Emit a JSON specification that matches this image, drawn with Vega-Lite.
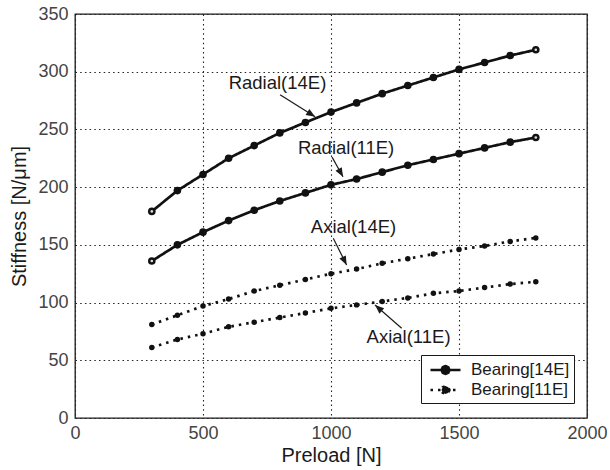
{
  "$schema": "https://vega.github.io/schema/vega-lite/v6.json",
  "width": 512,
  "height": 404,
  "autosize": {"type": "none"},
  "padding": {"left": 75, "top": 14, "right": 23, "bottom": 52},
  "background": "white",
  "config": {
    "font": "Liberation Sans",
    "view": {"stroke": "#1a1a1a", "strokeWidth": 1.3},
    "axis": {
      "grid": true,
      "gridColor": "#222222",
      "gridDash": [1.5, 3.2],
      "gridWidth": 1.1,
      "domain": false,
      "ticks": false,
      "labelFont": "Liberation Sans",
      "labelFontSize": 18,
      "labelColor": "#444444",
      "labelFlush": false,
      "format": "d",
      "titleFont": "Liberation Sans",
      "titleFontSize": 20,
      "titleFontWeight": "normal",
      "titleColor": "#1a1a1a"
    }
  },
  "datasets": {
    "curves": [
      {"preload": 300, "stiffness": 179, "curve": "Radial(14E)", "series": "Bearing[14E]"},
      {"preload": 400, "stiffness": 197, "curve": "Radial(14E)", "series": "Bearing[14E]"},
      {"preload": 500, "stiffness": 211, "curve": "Radial(14E)", "series": "Bearing[14E]"},
      {"preload": 600, "stiffness": 225, "curve": "Radial(14E)", "series": "Bearing[14E]"},
      {"preload": 700, "stiffness": 236, "curve": "Radial(14E)", "series": "Bearing[14E]"},
      {"preload": 800, "stiffness": 247, "curve": "Radial(14E)", "series": "Bearing[14E]"},
      {"preload": 900, "stiffness": 256, "curve": "Radial(14E)", "series": "Bearing[14E]"},
      {"preload": 1000, "stiffness": 265, "curve": "Radial(14E)", "series": "Bearing[14E]"},
      {"preload": 1100, "stiffness": 273, "curve": "Radial(14E)", "series": "Bearing[14E]"},
      {"preload": 1200, "stiffness": 281, "curve": "Radial(14E)", "series": "Bearing[14E]"},
      {"preload": 1300, "stiffness": 288, "curve": "Radial(14E)", "series": "Bearing[14E]"},
      {"preload": 1400, "stiffness": 295, "curve": "Radial(14E)", "series": "Bearing[14E]"},
      {"preload": 1500, "stiffness": 302, "curve": "Radial(14E)", "series": "Bearing[14E]"},
      {"preload": 1600, "stiffness": 308, "curve": "Radial(14E)", "series": "Bearing[14E]"},
      {"preload": 1700, "stiffness": 314, "curve": "Radial(14E)", "series": "Bearing[14E]"},
      {"preload": 1800, "stiffness": 319, "curve": "Radial(14E)", "series": "Bearing[14E]"},
      {"preload": 300, "stiffness": 136, "curve": "Radial(11E)", "series": "Bearing[14E]"},
      {"preload": 400, "stiffness": 150, "curve": "Radial(11E)", "series": "Bearing[14E]"},
      {"preload": 500, "stiffness": 161, "curve": "Radial(11E)", "series": "Bearing[14E]"},
      {"preload": 600, "stiffness": 171, "curve": "Radial(11E)", "series": "Bearing[14E]"},
      {"preload": 700, "stiffness": 180, "curve": "Radial(11E)", "series": "Bearing[14E]"},
      {"preload": 800, "stiffness": 188, "curve": "Radial(11E)", "series": "Bearing[14E]"},
      {"preload": 900, "stiffness": 195, "curve": "Radial(11E)", "series": "Bearing[14E]"},
      {"preload": 1000, "stiffness": 202, "curve": "Radial(11E)", "series": "Bearing[14E]"},
      {"preload": 1100, "stiffness": 207, "curve": "Radial(11E)", "series": "Bearing[14E]"},
      {"preload": 1200, "stiffness": 213, "curve": "Radial(11E)", "series": "Bearing[14E]"},
      {"preload": 1300, "stiffness": 219, "curve": "Radial(11E)", "series": "Bearing[14E]"},
      {"preload": 1400, "stiffness": 224, "curve": "Radial(11E)", "series": "Bearing[14E]"},
      {"preload": 1500, "stiffness": 229, "curve": "Radial(11E)", "series": "Bearing[14E]"},
      {"preload": 1600, "stiffness": 234, "curve": "Radial(11E)", "series": "Bearing[14E]"},
      {"preload": 1700, "stiffness": 239, "curve": "Radial(11E)", "series": "Bearing[14E]"},
      {"preload": 1800, "stiffness": 243, "curve": "Radial(11E)", "series": "Bearing[14E]"},
      {"preload": 300, "stiffness": 81, "curve": "Axial(14E)", "series": "Bearing[11E]"},
      {"preload": 400, "stiffness": 89, "curve": "Axial(14E)", "series": "Bearing[11E]"},
      {"preload": 500, "stiffness": 97, "curve": "Axial(14E)", "series": "Bearing[11E]"},
      {"preload": 600, "stiffness": 103, "curve": "Axial(14E)", "series": "Bearing[11E]"},
      {"preload": 700, "stiffness": 110, "curve": "Axial(14E)", "series": "Bearing[11E]"},
      {"preload": 800, "stiffness": 115, "curve": "Axial(14E)", "series": "Bearing[11E]"},
      {"preload": 900, "stiffness": 120, "curve": "Axial(14E)", "series": "Bearing[11E]"},
      {"preload": 1000, "stiffness": 125, "curve": "Axial(14E)", "series": "Bearing[11E]"},
      {"preload": 1100, "stiffness": 129, "curve": "Axial(14E)", "series": "Bearing[11E]"},
      {"preload": 1200, "stiffness": 134, "curve": "Axial(14E)", "series": "Bearing[11E]"},
      {"preload": 1300, "stiffness": 138, "curve": "Axial(14E)", "series": "Bearing[11E]"},
      {"preload": 1400, "stiffness": 142, "curve": "Axial(14E)", "series": "Bearing[11E]"},
      {"preload": 1500, "stiffness": 146, "curve": "Axial(14E)", "series": "Bearing[11E]"},
      {"preload": 1600, "stiffness": 149, "curve": "Axial(14E)", "series": "Bearing[11E]"},
      {"preload": 1700, "stiffness": 153, "curve": "Axial(14E)", "series": "Bearing[11E]"},
      {"preload": 1800, "stiffness": 156, "curve": "Axial(14E)", "series": "Bearing[11E]"},
      {"preload": 300, "stiffness": 61, "curve": "Axial(11E)", "series": "Bearing[11E]"},
      {"preload": 400, "stiffness": 68, "curve": "Axial(11E)", "series": "Bearing[11E]"},
      {"preload": 500, "stiffness": 73, "curve": "Axial(11E)", "series": "Bearing[11E]"},
      {"preload": 600, "stiffness": 79, "curve": "Axial(11E)", "series": "Bearing[11E]"},
      {"preload": 700, "stiffness": 83, "curve": "Axial(11E)", "series": "Bearing[11E]"},
      {"preload": 800, "stiffness": 87, "curve": "Axial(11E)", "series": "Bearing[11E]"},
      {"preload": 900, "stiffness": 91, "curve": "Axial(11E)", "series": "Bearing[11E]"},
      {"preload": 1000, "stiffness": 95, "curve": "Axial(11E)", "series": "Bearing[11E]"},
      {"preload": 1100, "stiffness": 98, "curve": "Axial(11E)", "series": "Bearing[11E]"},
      {"preload": 1200, "stiffness": 101, "curve": "Axial(11E)", "series": "Bearing[11E]"},
      {"preload": 1300, "stiffness": 104, "curve": "Axial(11E)", "series": "Bearing[11E]"},
      {"preload": 1400, "stiffness": 108, "curve": "Axial(11E)", "series": "Bearing[11E]"},
      {"preload": 1500, "stiffness": 110, "curve": "Axial(11E)", "series": "Bearing[11E]"},
      {"preload": 1600, "stiffness": 113, "curve": "Axial(11E)", "series": "Bearing[11E]"},
      {"preload": 1700, "stiffness": 116, "curve": "Axial(11E)", "series": "Bearing[11E]"},
      {"preload": 1800, "stiffness": 118, "curve": "Axial(11E)", "series": "Bearing[11E]"}
    ],
    "notes": [
      {"label": "Radial(14E)", "tx": 791, "ty": 285, "fromX": 801, "fromY": 280, "toX": 938, "toY": 261},
      {"label": "Radial(11E)", "tx": 1059, "ty": 228.5, "fromX": 1004, "fromY": 226, "toX": 1047, "toY": 209},
      {"label": "Axial(14E)", "tx": 1088, "ty": 160, "fromX": 1009, "fromY": 155.7, "toX": 1061, "toY": 132.5},
      {"label": "Axial(11E)", "tx": 1303, "ty": 64.7, "fromX": 1276, "fromY": 77.7, "toX": 1172, "toY": 97.9}
    ]
  },
  "layer": [
    {
      "data": {"name": "curves"},
      "mark": {"type": "line", "strokeWidth": 2.7, "color": "#111111"},
      "encoding": {
        "x": {
          "field": "preload", "type": "quantitative",
          "scale": {"domain": [0, 2000], "nice": false},
          "axis": {"title": "Preload [N]", "values": [0, 500, 1000, 1500, 2000], "labelPadding": 6, "titlePadding": 3}
        },
        "y": {
          "field": "stiffness", "type": "quantitative",
          "scale": {"domain": [0, 350], "nice": false},
          "axis": {"title": "Stiffness [N/μm]", "values": [0, 50, 100, 150, 200, 250, 300, 350], "labelPadding": 7, "titlePadding": 8}
        },
        "detail": {"field": "curve"},
        "strokeDash": {
          "field": "series", "type": "nominal",
          "scale": {"domain": ["Bearing[14E]", "Bearing[11E]"], "range": [[1, 0], [2.5, 5]]},
          "legend": {
            "title": null,
            "orient": "none",
            "legendX": 346,
            "legendY": 341,
            "direction": "vertical",
            "strokeColor": "#1a1a1a",
            "fillColor": "white",
            "padding": 4,
            "rowPadding": 0,
            "labelFont": "Liberation Sans",
            "labelFontSize": 17,
            "labelColor": "#1a1a1a",
            "labelLimit": 200,
            "labelOffset": 14.5,
            "symbolOffset": 9.5,
            "symbolSize": 361,
            "symbolFillColor": "#111111",
            "symbolStrokeColor": "#111111",
            "encode": {
              "symbols": {
                "update": {
                  "shape": {"value": "M-1.58,0H1.58M0.42,0L0.297,0.297L0,0.42L-0.297,0.297L-0.42,0L-0.297,-0.297L0,-0.42L0.297,-0.297Z"},
                  "size": {"value": 361},
                  "stroke": {"value": "#111111"},
                  "strokeWidth": {"value": 2.5},
                  "opacity": {"value": 1}
                }
              }
            }
          }
        }
      }
    },
    {
      "data": {"name": "curves"},
      "transform": [{"filter": "datum.series === 'Bearing[14E]'"}],
      "mark": {"type": "point", "filled": true, "color": "#111111", "opacity": 1, "size": 58},
      "encoding": {
        "x": {"field": "preload", "type": "quantitative"},
        "y": {"field": "stiffness", "type": "quantitative"}
      }
    },
    {
      "data": {"name": "curves"},
      "transform": [{"filter": "datum.series === 'Bearing[14E]' && (datum.preload === 300 || datum.preload === 1800)"}],
      "mark": {"type": "point", "filled": true, "color": "#dddddd", "opacity": 1, "size": 7},
      "encoding": {
        "x": {"field": "preload", "type": "quantitative"},
        "y": {"field": "stiffness", "type": "quantitative"}
      }
    },
    {
      "data": {"name": "curves"},
      "transform": [{"filter": "datum.series === 'Bearing[11E]'"}],
      "mark": {"type": "point", "filled": true, "color": "#111111", "opacity": 1, "size": 30},
      "encoding": {
        "x": {"field": "preload", "type": "quantitative"},
        "y": {"field": "stiffness", "type": "quantitative"}
      }
    },
    {
      "data": {"name": "notes"},
      "mark": {"type": "rule", "strokeWidth": 1.2, "color": "#1a1a1a"},
      "encoding": {
        "x": {"field": "fromX", "type": "quantitative"},
        "y": {"field": "fromY", "type": "quantitative"},
        "x2": {"field": "toX"},
        "y2": {"field": "toY"}
      }
    },
    {
      "data": {"name": "notes"},
      "transform": [
        {"calculate": "atan2((datum.toX - datum.fromX) * 0.256, (datum.toY - datum.fromY) * 1.15429) * 180 / PI", "as": "heading"}
      ],
      "mark": {"type": "point", "filled": true, "color": "#1a1a1a", "opacity": 1, "shape": "M0,0L-0.4,1L0.4,1Z", "size": 324},
      "encoding": {
        "x": {"field": "toX", "type": "quantitative"},
        "y": {"field": "toY", "type": "quantitative"},
        "angle": {"field": "heading", "type": "quantitative", "scale": null}
      }
    },
    {
      "data": {"name": "notes"},
      "mark": {"type": "text", "fontSize": 18.5, "font": "Liberation Sans", "color": "#1a1a1a", "align": "center", "baseline": "alphabetic"},
      "encoding": {
        "x": {"field": "tx", "type": "quantitative"},
        "y": {"field": "ty", "type": "quantitative"},
        "text": {"field": "label"}
      }
    }
  ]
}
